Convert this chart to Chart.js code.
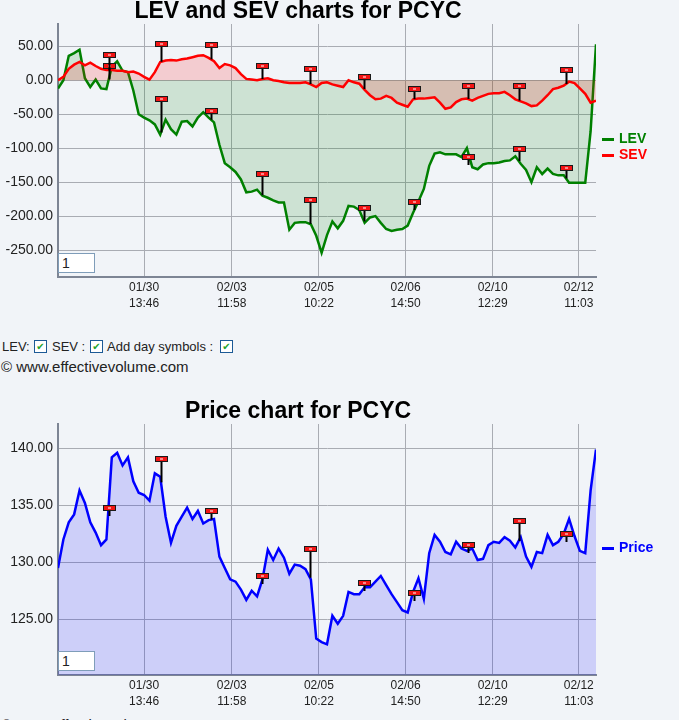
<!DOCTYPE html>
<html lang="en">
<head>
<meta charset="UTF-8">
<title>LEV and SEV charts for PCYC</title>
<script src="https://cdn.jsdelivr.net/npm/chart.js"></script>
<style>
  body {
    margin: 0;
    width: 679px;
    height: 720px;
    overflow: hidden;
    position: relative;
    background: #f1f4f8;
    font-family: Arial, "Liberation Sans", sans-serif;
    color: #222;
  }
  canvas { position: absolute; left: 0; }
  .legend {
    position: absolute;
    left: 602px;
    font: bold 14px Arial, sans-serif;
    line-height: 16px;
    white-space: nowrap;
  }
  .legend .dash {
    display: inline-block;
    width: 12px;
    height: 3px;
    margin-right: 5px;
    vertical-align: middle;
  }
  .zoombox {
    position: absolute;
    left: 58px;
    width: 37px;
    height: 20px;
    box-sizing: border-box;
    background: #fff;
    border: 1px solid #7f9db9;
    font: 14px Arial, sans-serif;
    line-height: 18px;
    padding-left: 3px;
  }
  .opt { position: absolute; top: 338px; font: 13px Arial, sans-serif; line-height: 17px; white-space: nowrap; }
  .chk {
    position: absolute;
    top: 340px;
    width: 13px;
    height: 13px;
    box-sizing: border-box;
    border: 1px solid #1c5a96;
    background: #fff;
    color: #1fa32a;
    font: bold 10px "DejaVu Sans", sans-serif;
    line-height: 11px;
    text-align: center;
  }
  .copy { position: absolute; left: 1px; font: 15px Arial, sans-serif; line-height: 17px; white-space: nowrap; }
</style>
</head>
<body>

<canvas id="evChart" width="604" height="310" style="top:0"></canvas>
<div class="legend" style="top:130px;color:#008000"><span class="dash" style="background:#008000"></span>LEV</div>
<div class="legend" style="top:146px;color:#ff0000"><span class="dash" style="background:#ff0000"></span>SEV</div>
<div class="zoombox" style="top:253px">1</div>

<span class="opt" style="left:2px">LEV:</span>
<span class="chk" style="left:34px">✔</span>
<span class="opt" style="left:52px">SEV :</span>
<span class="chk" style="left:90px">✔</span>
<span class="opt" style="left:107px">Add day symbols :</span>
<span class="chk" style="left:220px">✔</span>
<div class="copy" style="top:358px">© www.effectivevolume.com</div>

<canvas id="priceChart" width="604" height="310" style="top:400px"></canvas>
<div class="legend" style="top:539px;color:#0000ff"><span class="dash" style="background:#0000ff"></span>Price</div>
<div class="zoombox" style="top:651px">1</div>
<div class="copy" style="top:716px">© www.effectivevolume.com</div>

<script>
// x runs 0..100 across the plot (one step per sample)
const xTickPos = [16.0, 32.3, 48.5, 64.6, 80.8, 96.8];
const xTickLabels = [["01/30", "13:46"], ["02/03", "11:58"], ["02/05", "10:22"],
                     ["02/06", "14:50"], ["02/10", "12:29"], ["02/12", "11:03"]];

const evTicks = [-250, -200, -150, -100, -50, 0, 50];
const priceTicks = [125, 130, 135, 140];

const lev = [
  -12, 0, 36, 40, 45, 3, -10, 1, -12, -13,
  20, 28, 14, 12, -15, -50, -55, -59, -65, -80,
  -58, -72, -80, -61, -60, -68, -55, -47, -55, -62,
  -95, -122, -128, -135, -146, -165, -164, -161, -170, -173,
  -177, -180, -180, -220, -210, -209, -209, -212, -229, -254,
  -228, -208, -218, -207, -185, -186, -191, -210, -202, -200,
  -210, -219, -222, -220, -219, -214, -195, -178, -160, -126,
  -108, -106, -109, -109, -109, -113, -100, -128, -131, -124,
  -122, -122, -121, -119, -118, -112, -123, -132, -150, -128,
  -138, -130, -138, -140, -140, -151, -151, -151, -151, -75,
  53
];

const sev = [
  0, 5, 17, 23, 27, 22, 26, 21, 17, 15,
  15, 14, 14, 12, 13, 10, 5, 1, 12, 27,
  29, 30, 29, 31, 32, 34, 36, 37, 33, 28,
  18, 24, 22, 18, 9, 2, 1, 0, 2, 3,
  0, -1, -3, -4, -4, -4, -3, -6, -10, -4,
  -3, -6, -8, -10, 0, -3, -5, -14, -22, -28,
  -27, -23, -26, -33, -36, -39, -28, -27, -27, -26,
  -25, -33, -42, -40, -32, -28, -27, -30, -26, -23,
  -20, -19, -19, -17, -22, -28, -31, -34, -38, -37,
  -30, -22, -13, -11, -8, -2, -4, -12, -20, -33,
  -30
];

const price = [
  129.5, 132.0, 133.5, 134.2, 136.3, 135.2, 133.5, 132.6, 131.5, 132.0,
  139.2, 139.6, 138.5, 139.2, 137.1, 136.1, 135.9, 135.4, 137.8, 137.5,
  134.0, 131.7, 133.2, 134.0, 134.8, 133.8, 134.5, 133.4, 133.7, 133.8,
  130.5, 129.5, 128.5, 128.3, 127.6, 126.7, 127.5, 127.0, 128.5, 131.1,
  130.2, 131.2, 130.4, 129.0, 129.8, 129.7, 129.4, 128.5, 123.3, 123.0,
  122.8, 125.3, 124.6, 125.3, 127.4, 127.2, 127.2, 127.8, 127.8, 128.3,
  128.8, 128.0, 127.2, 126.5, 125.8, 125.6, 127.4, 128.6, 126.8, 130.8,
  132.4, 131.8, 130.9, 130.7, 131.8, 131.2, 131.0, 131.2, 130.2, 130.3,
  131.5, 131.8, 131.7, 132.2, 131.9, 131.3, 132.2, 130.5, 129.6, 130.9,
  130.8, 132.4, 131.5, 131.8, 132.5, 133.8, 132.3, 131.0, 130.8, 136.3,
  139.9
];

// day symbols: where each day starts, and the level of the flag
const dayMarks = [9.43, 19.14, 28.44, 37.92, 46.84, 56.88, 66.23, 76.15, 85.63, 94.42];
const sevFlags = [36.8, 54, 52.5, 21.6, 16.7, 5.4, -12.7, -7.8, -7.8, 15.2];
const levFlags = [21, -27.4, -44.6, -138.7, -176, -188.7, -179.9, -113.7, -100.5, -128.9];
const priceFlags = [134.8, 139.1, 134.5, 128.8, 131.2, 128.2, 127.3, 131.5, 133.6, 132.5];

const gridColor = "#a9acb3";
const axisColor = "#7d8594";

function pts(arr) {
  return arr.map((v, i) => ({ x: i, y: v }));
}

function valueAt(arr, mx) {
  const i = Math.floor(mx);
  const j = Math.min(i + 1, arr.length - 1);
  return arr[i] + (arr[j] - arr[i]) * (mx - i);
}

function flagPlugin(sets) {
  return {
    id: "dayFlags",
    afterDatasetsDraw(chart) {
      const ctx = chart.ctx;
      const xs = chart.scales.x, ys = chart.scales.y;
      ctx.save();
      sets.forEach(s => {
        dayMarks.forEach((mx, k) => {
          const x = Math.round(xs.getPixelForValue(mx)) + 0.5;
          const yf = Math.round(ys.getPixelForValue(s.flags[k]));
          const yb = Math.max(ys.getPixelForValue(valueAt(s.series, mx)), yf + 8);
          ctx.strokeStyle = "#000";
          ctx.lineWidth = 2;
          ctx.beginPath();
          ctx.moveTo(x, yf);
          ctx.lineTo(x, yb);
          ctx.stroke();
          ctx.fillStyle = "#1a1a1a";
          ctx.fillRect(x - 6.5, yf - 3, 13, 6);
          ctx.fillStyle = "#f21414";
          ctx.fillRect(x - 5.5, yf - 2, 11, 4);
          ctx.fillStyle = "#fff";
          ctx.fillRect(x - 1.5, yf - 0.5, 3, 1);
        });
      });
      ctx.restore();
    }
  };
}

function buildChart(id, titleText, datasets, yMin, yMax, yTicks, xAxisH, flagSets) {
  return new Chart(document.getElementById(id), {
    type: "line",
    data: { datasets: datasets },
    options: {
      responsive: false,
      animation: false,
      events: [],
      layout: { padding: { left: 0, right: 8, top: 0, bottom: 0 } },
      plugins: {
        legend: { display: false },
        tooltip: { enabled: false },
        title: {
          display: true,
          text: titleText,
          color: "#000",
          font: { family: "Arial", size: 23, weight: "bold", lineHeight: 1 },
          padding: { top: 0, bottom: 1 }
        }
      },
      elements: {
        point: { radius: 0 },
        line: { tension: 0, borderWidth: 2.5 }
      },
      scales: {
        x: {
          type: "linear",
          min: 0,
          max: 100,
          afterBuildTicks: s => { s.ticks = xTickPos.map(v => ({ value: v })); },
          afterFit: s => { s.height = xAxisH; },
          ticks: {
            autoSkip: false,
            maxRotation: 0,
            padding: 3,
            color: "#222",
            font: { family: "Arial", size: 12, lineHeight: "16px" },
            callback: (v, i) => xTickLabels[i]
          },
          grid: { color: gridColor, drawTicks: false },
          border: { color: axisColor, width: 2 }
        },
        y: {
          min: yMin,
          max: yMax,
          afterBuildTicks: s => { s.ticks = yTicks.map(v => ({ value: v })); },
          afterFit: s => { s.width = 58; },
          ticks: {
            padding: 5,
            color: "#222",
            font: { family: "Arial", size: 14 },
            callback: v => v.toFixed(2)
          },
          grid: { color: gridColor, drawTicks: false },
          border: { color: axisColor, width: 2 }
        }
      }
    },
    plugins: [flagPlugin(flagSets)]
  });
}

buildChart("evChart", "LEV and SEV charts for PCYC", [
  {
    label: "SEV",
    data: pts(sev),
    borderColor: "#ff0000",
    backgroundColor: "rgba(255,0,0,0.16)",
    fill: "origin"
  },
  {
    label: "LEV",
    data: pts(lev),
    borderColor: "#008000",
    backgroundColor: "rgba(0,128,0,0.15)",
    fill: "origin"
  }
], -289.7, 82.9, evTicks, 33, [
  { series: lev, flags: levFlags },
  { series: sev, flags: sevFlags }
]);

buildChart("priceChart", "Price chart for PCYC", [
  {
    label: "Price",
    data: pts(price),
    borderColor: "#0000ff",
    backgroundColor: "rgba(0,0,255,0.15)",
    fill: "start"
  }
], 120.11, 142.13, priceTicks, 35, [
  { series: price, flags: priceFlags }
]);
</script>
</body>
</html>
